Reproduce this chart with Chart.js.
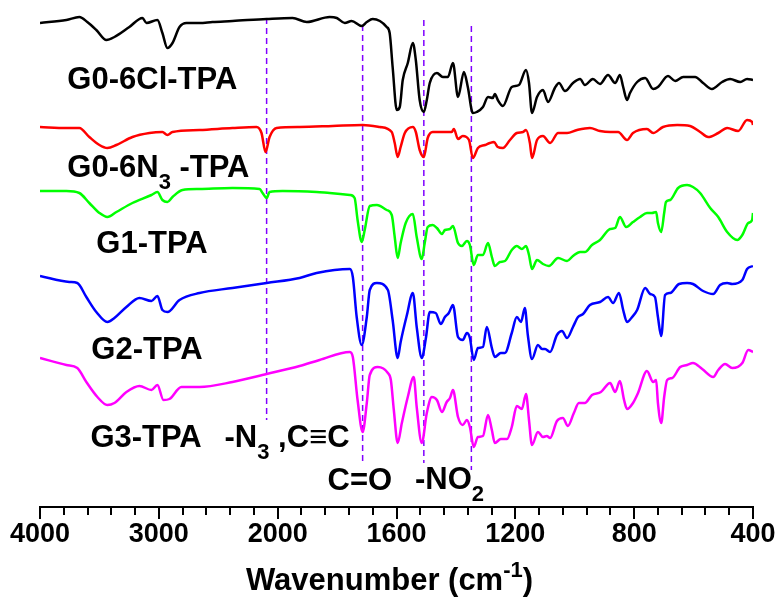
<!DOCTYPE html>
<html>
<head>
<meta charset="utf-8">
<script src="https://cdn.jsdelivr.net/npm/chart.js@4.4.1/dist/chart.umd.min.js"></script>
<style>
html, body { margin: 0; padding: 0; background: #fff; }
canvas { display: block; }
</style>
</head>
<body>
<canvas id="ftir" width="779" height="599"></canvas>
<script>
// x tick labels (cm-1); axis is split: 1000 per division above 2000, 400 below
const tickLabels = ['4000', '3000', '2000', '1600', '1200', '800', '400'];

// [wavenumber, transmittance (a.u., offset)]
const black = [[4000,484],[3778,487],[3669,490],[3602,485],[3526,477],[3441,467],[3374,470],[3248,480],[3138,489],[3104,484],
  [3012,487],[2970,474],[2928,459],[2885,464],[2826,480],[2767,484],[2658,484],[2548,485],[2380,486],[2093,488],
  [1950,489],[1902,485],[1825,490],[1801,489],[1774,484],[1751,486],[1717,481],[1700,485],[1680,488],[1656,486],
  [1633,480],[1623,474],[1613,440],[1599,397],[1589,400],[1579,427],[1562,444],[1545,464],[1535,447],[1522,407],
  [1508,395],[1498,407],[1488,424],[1464,434],[1444,430],[1427,430],[1410,444],[1393,410],[1373,435],[1360,420],
  [1343,394],[1330,395],[1309,400],[1292,410],[1276,409],[1269,413],[1259,407],[1242,401],[1212,420],[1188,422],
  [1164,437],[1154,424],[1144,394],[1127,410],[1107,417],[1090,405],[1067,419],[1053,424],[1033,416],[1006,424],
  [982,428],[966,422],[939,428],[915,423],[888,432],[864,424],[848,432],[837,420],[824,407],[814,414],
  [790,425],[763,429],[736,418],[720,420],[686,431],[662,426],[635,430],[595,430],[568,424],[538,418],
  [504,425],[477,428],[443,425],[420,428],[400,427]];

const red = [[4000,380],[3778,379],[3669,379],[3585,370],[3500,362],[3433,359],[3357,362],[3222,370],[3079,374],[2970,375],
  [2928,372],[2885,375],[2658,377],[2380,379],[2178,380],[2136,374],[2102,355],[2068,370],[2009,379],[1926,380],
  [1815,381],[1714,382],[1656,380],[1616,375],[1606,364],[1596,350],[1586,360],[1572,374],[1545,380],[1535,375],
  [1522,357],[1508,350],[1495,369],[1478,375],[1444,375],[1414,375],[1407,378],[1393,368],[1377,371],[1356,367],
  [1343,349],[1326,359],[1302,362],[1286,364],[1272,365],[1259,360],[1242,359],[1218,367],[1195,374],[1174,375],
  [1164,377],[1151,364],[1144,349],[1127,367],[1107,371],[1083,364],[1056,374],[1026,374],[992,377],[949,379],
  [915,376],[881,375],[854,375],[824,367],[804,374],[757,378],[736,374],[703,380],[655,382],[612,381],
  [578,375],[551,370],[517,374],[487,379],[450,376],[420,387],[403,385],[400,382]];

const green = [[4000,316],[3778,316],[3669,314],[3585,304],[3500,294],[3433,290],[3357,295],[3222,304],[3062,312],[3012,315],
  [2970,307],[2928,305],[2885,310],[2801,317],[2658,318],[2380,319],[2152,318],[2127,314],[2093,309],[2068,315],
  [1983,316],[1869,315],[1825,314],[1757,312],[1741,309],[1731,287],[1717,265],[1707,277],[1690,301],[1666,302],
  [1633,297],[1616,292],[1606,270],[1596,249],[1586,264],[1569,284],[1545,293],[1532,270],[1515,248],[1505,264],
  [1495,280],[1478,282],[1464,279],[1447,273],[1437,277],[1420,278],[1410,281],[1393,264],[1380,261],[1363,266],
  [1353,262],[1340,242],[1326,252],[1309,252],[1292,264],[1279,250],[1269,241],[1252,245],[1235,246],[1212,257],
  [1195,261],[1178,258],[1164,261],[1154,252],[1144,238],[1127,247],[1107,243],[1087,241],[1056,249],[1026,246],
  [1006,251],[982,255],[966,255],[942,262],[915,267],[881,278],[864,279],[848,290],[827,280],[804,285],
  [780,290],[757,294],[740,294],[726,295],[720,284],[709,275],[699,294],[693,305],[679,307],[652,319],
  [622,322],[602,320],[578,314],[544,299],[517,290],[487,275],[453,267],[436,272],[416,284],[403,287],[400,294]];

const blue = [[4000,231],[3753,225],[3686,224],[3610,210],[3526,195],[3433,185],[3374,189],[3273,200],[3163,209],[3062,206],
  [3012,211],[2970,197],[2928,195],[2826,207],[2658,214],[2380,219],[2093,224],[1926,229],[1869,234],[1757,238],
  [1747,230],[1734,190],[1717,162],[1700,190],[1690,217],[1666,224],[1629,217],[1613,187],[1596,149],[1586,165],
  [1565,192],[1545,214],[1532,180],[1515,149],[1501,169],[1488,195],[1468,194],[1451,183],[1437,190],[1424,194],
  [1410,202],[1393,170],[1377,167],[1363,174],[1353,169],[1340,147],[1326,159],[1309,160],[1296,180],[1279,159],
  [1269,150],[1249,154],[1235,154],[1212,174],[1195,190],[1181,185],[1168,199],[1158,172],[1144,148],[1124,162],
  [1110,158],[1100,158],[1083,155],[1060,172],[1043,176],[1026,169],[1006,180],[989,190],[972,193],[949,202],
  [915,205],[888,210],[871,204],[851,214],[837,197],[824,185],[807,190],[790,197],[763,219],[746,213],
  [730,210],[720,190],[709,171],[696,212],[679,214],[649,223],[622,224],[602,223],[568,216],[534,213],
  [511,222],[487,224],[470,223],[436,227],[420,238],[400,241]];

const magenta = [[4000,149],[3778,142],[3686,139],[3610,125],[3517,110],[3433,102],[3374,104],[3273,115],[3163,121],[3062,117],
  [3012,122],[2961,107],[2911,108],[2810,120],[2658,120],[2380,125],[2093,133],[1926,141],[1859,147],[1757,155],
  [1747,150],[1731,107],[1714,75],[1700,104],[1690,132],[1663,140],[1629,134],[1619,127],[1609,97],[1596,64],
  [1582,84],[1562,110],[1542,130],[1532,100],[1515,64],[1498,94],[1481,110],[1464,107],[1447,95],[1431,105],
  [1420,109],[1410,117],[1393,90],[1377,82],[1363,87],[1353,80],[1340,60],[1326,70],[1309,71],[1292,92],
  [1279,77],[1269,64],[1249,68],[1228,68],[1212,80],[1195,101],[1178,98],[1164,113],[1154,87],[1144,62],
  [1124,75],[1107,70],[1094,71],[1083,69],[1060,86],[1040,89],[1023,81],[1003,94],[986,104],[966,104],
  [942,112],[912,115],[881,124],[864,115],[848,126],[834,107],[824,98],[804,104],[787,114],[757,136],
  [736,125],[726,127],[720,104],[709,84],[699,110],[689,127],[672,129],[645,140],[622,142],[602,144],
  [571,138],[534,130],[517,137],[494,143],[470,139],[436,144],[416,157],[400,155]];

// dashed guide lines: wavenumber, top and bottom of the line
const guideWn = [2093, 1714, 1508, 1348];
const guideTop = [489, 482, 487, 481];
const guideBottom = [87, 42, 44, 37];

// text labels: parts ([text, 1 = subscript]), anchored at wavenumber / transmittance
const labels = [
    { parts: [['G0-6Cl-TPA']], wn: 3770, t: 418 },
    { parts: [['G0-6N'], ['3', 1], [' -TPA']], wn: 3770, t: 330 },
    { parts: [['G1-TPA']], wn: 3526, t: 254 },
    { parts: [['G2-TPA']], wn: 3568, t: 148 },
    { parts: [['G3-TPA']], wn: 3576, t: 60 },
    { parts: [['-N'], ['3', 1], [' ,C\u2261C']], wn: 2447, t: 60 },
    { parts: [['C=O']], wn: 1832, t: 17 },
    { parts: [['-NO'], ['2', 1]], wn: 1538, t: 18 },
];

const FONT = '"Liberation Sans", Arial, Helvetica, sans-serif';

function axisPos(w) {
    return w >= 2000 ? (4000 - w) / 1000 : 2 + (2000 - w) / 400;
}
function isMajor(v) {
    return Math.abs(v - Math.round(v)) < 1e-6;
}
function toPoints(arr) {
    return arr.map(p => ({ x: axisPos(p[0]), y: p[1] }));
}

function drawParts(ctx, parts, x, y, size) {
    for (const [txt, mode] of parts) {
        const s = mode ? Math.round(size * 0.7) : size;
        ctx.font = `bold ${s}px ${FONT}`;
        let dy = 0;
        if (mode === 1) dy = size * 0.4;
        if (mode === -1) dy = -size * 0.42;
        ctx.fillText(txt, x, y + dy);
        x += ctx.measureText(txt).width;
    }
}
function partsWidth(ctx, parts, size) {
    let w = 0;
    for (const [txt, mode] of parts) {
        const s = mode ? Math.round(size * 0.7) : size;
        ctx.font = `bold ${s}px ${FONT}`;
        w += ctx.measureText(txt).width;
    }
    return w;
}

const decor = {
    id: 'decor',
    afterDraw(chart) {
        const { ctx } = chart;
        const xs = chart.scales.x, ys = chart.scales.y;
        ctx.save();
        // minor / major tick marks below the axis line
        ctx.strokeStyle = '#000';
        ctx.lineWidth = 2;
        for (const t of xs.ticks) {
            const px = Math.round(xs.getPixelForValue(t.value));
            const len = isMajor(t.value) ? 12 : 8;
            ctx.beginPath();
            ctx.moveTo(px, xs.top);
            ctx.lineTo(px, xs.top + len);
            ctx.stroke();
        }
        // in-plot labels
        ctx.fillStyle = '#000';
        ctx.textBaseline = 'alphabetic';
        ctx.textAlign = 'left';
        for (const l of labels) {
            drawParts(ctx, l.parts, xs.getPixelForValue(axisPos(l.wn)), ys.getPixelForValue(l.t), 31);
        }
        // axis title with superscript
        const title = [['Wavenumber (cm'], ['-1', -1], [')']];
        const tw = partsWidth(ctx, title, 31);
        drawParts(ctx, title, chart.width / 2 - tw / 2, 590, 31);
        ctx.restore();
    }
};

const datasets = [
    { data: toPoints(black), borderColor: '#000000' },
    { data: toPoints(red), borderColor: '#ff0000' },
    { data: toPoints(green), borderColor: '#00ff00' },
    { data: toPoints(blue), borderColor: '#0000ff' },
    { data: toPoints(magenta), borderColor: '#ff00ff' },
].map(d => ({ ...d, borderWidth: 2.5, pointRadius: 0, cubicInterpolationMode: 'monotone', order: 1 }));

guideWn.forEach((w, i) => {
    datasets.push({
        data: [{ x: axisPos(w), y: guideTop[i] }, { x: axisPos(w), y: guideBottom[i] }],
        borderColor: '#8000ff',
        borderWidth: 1.5,
        borderDash: [6, 4],
        pointRadius: 0,
        order: 2,
    });
});

new Chart(document.getElementById('ftir'), {
    type: 'line',
    data: { datasets },
    options: {
        responsive: false,
        animation: false,
        layout: { padding: { left: 40, right: 26, top: 0, bottom: 0 } },
        plugins: { legend: { display: false }, tooltip: { enabled: false } },
        scales: {
            x: {
                type: 'linear',
                min: 0,
                max: 6,
                afterFit: s => { s.height = 92; s.paddingLeft = 0; s.paddingRight = 0; },
                grid: { display: false, drawTicks: false },
                border: { display: true, color: '#000', width: 2 },
                ticks: {
                    stepSize: 0.2,
                    autoSkip: false,
                    maxRotation: 0,
                    padding: 11,
                    color: '#000',
                    font: { family: FONT, size: 27, weight: 'bold' },
                    callback: v => isMajor(v) ? tickLabels[Math.round(v)] : '',
                },
            },
            y: { display: false, min: 0, max: 507 },
        },
    },
    plugins: [decor],
});
</script>
</body>
</html>
